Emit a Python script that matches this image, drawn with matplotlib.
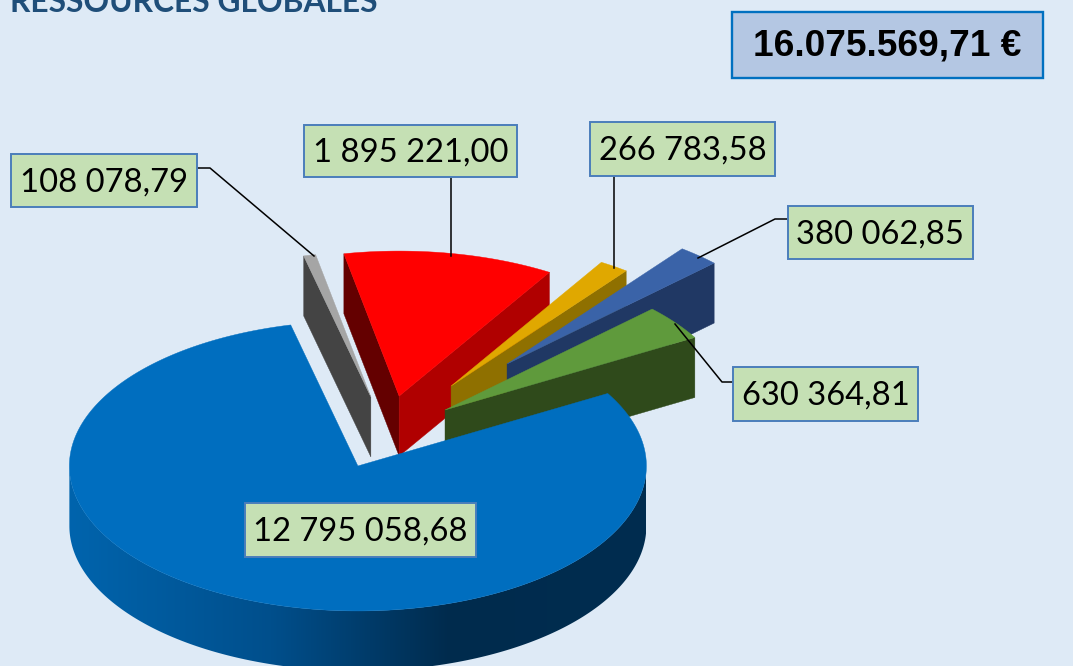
import numpy as np
import matplotlib.pyplot as plt
from matplotlib.patches import Polygon, Rectangle
from matplotlib.colors import LinearSegmentedColormap

# Data, in drawing order around the pie (clockwise)
slice_names = ["Blue", "Grey", "Red", "Gold", "Navy", "Green"]
slice_values = [12795058.68, 108078.79, 1895221.00, 266783.58, 380062.85, 630364.81]
total_label = "16.075.569,71 €"
title = "RESSOURCES GLOBALES"

# Styles
top_colors = ["#006ebf", "#a5a5a5", "#ff0000", "#e0a800", "#3a63a8", "#5f9a3c"]
left_colors = ["#00497f", "#444444", "#640000", "#8f7000", "#203864", "#2f4a1b"]
right_colors = ["#00497f", "#444444", "#b00000", "#8f7000", "#203864", "#2f4a1b"]
bg = "#deeaf6"
wall_cmap = LinearSegmentedColormap.from_list(
    "wall", [(0, "#0064ad"), (0.35, "#004f8c"), (0.66, "#002b4d"), (1, "#002d50")])

# Pie geometry in pixels
cx, cy = 385, 440
rx, ry = 288.5, 145
depth = 60
start_angle = 30.0
# explosion of each slice, in pie radius units (x right, y up)
explode_x = [-0.094, -0.049, 0.049, 0.229, 0.423, 0.208]
explode_y = [-0.179, 0.297, 0.303, 0.372, 0.524, 0.207]

# Label boxes: left, top, right, bottom in pixels, and the leader line
label_boxes = [(245, 503, 476, 557), (11, 154, 197, 207), (304, 125, 517, 177),
               (590, 122, 775, 176), (788, 206, 973, 259), (733, 367, 918, 421)]
leaders = [None,
           [(197, 168), (210, 168), (314, 256)],
           [(451, 177), (451, 256)],
           [(614, 176), (614, 268)],
           [(788, 219), (775, 219), (698, 258)],
           [(733, 382), (722, 382), (675, 324)]]


def fmt(v):
    return f"{v:,.2f}".replace(",", " ").replace(".", ",")


def rim(ox, oy, a):
    a = np.radians(a)
    return ox + rx * np.cos(a), oy - ry * np.sin(a)


fig = plt.figure(figsize=(10.73, 6.66), dpi=100, facecolor=bg)
ax = fig.add_axes([0, 0, 1, 1])
ax.axis("off")

sweeps = np.array(slice_values) / sum(slice_values) * 360
highs = start_angle - np.concatenate([[0], np.cumsum(sweeps)[:-1]])
lows = highs - sweeps


def draw_slice(i, z):
    ox = cx + explode_x[i] * rx
    oy = cy - explode_y[i] * ry
    hi, lo = highs[i], lows[i]

    # cut faces, only those turned to the viewer
    if np.cos(np.radians(hi)) < 0:
        x, y = rim(ox, oy, hi)
        ax.add_patch(Polygon([(ox, oy), (x, y), (x, y + depth), (ox, oy + depth)],
                             fc=left_colors[i], ec=left_colors[i], lw=0.3, zorder=z))
    if np.cos(np.radians(lo)) > 0:
        x, y = rim(ox, oy, lo)
        ax.add_patch(Polygon([(ox, oy), (x, y), (x, y + depth), (ox, oy + depth)],
                             fc=right_colors[i], ec=right_colors[i], lw=0.3, zorder=z))

    # outer wall with its gradient, front part of the rim only
    front = np.linspace(max(lo, -180), min(hi, 0), 300)
    if front[-1] > front[0]:
        xs, ys = rim(ox, oy, front)
        wall = Polygon(list(zip(xs, ys)) + list(zip(xs[::-1], ys[::-1] + depth)),
                       fc="none", ec="none", transform=ax.transData)
        ax.add_patch(wall)
        grad = np.linspace(0, 1, 256).reshape(1, -1)
        im = ax.imshow(grad, cmap=wall_cmap, extent=(xs.min(), xs.max(), ys.max() + depth, ys.min()),
                       aspect="auto", zorder=z)
        im.set_clip_path(wall)

    # top face
    xs, ys = rim(ox, oy, np.linspace(lo, hi, 400))
    pts = [(ox, oy)] + list(zip(xs, ys))
    ax.add_patch(Polygon(pts, fc=top_colors[i], ec=top_colors[i], lw=0.3, zorder=z + 0.5))


draw_order = [1, 2, 3, 4, 5, 0]
for z, i in enumerate(draw_order):
    draw_slice(i, z + 1)

for i, box in enumerate(label_boxes):
    l, t, r, b = box
    ax.add_patch(Rectangle((l, t), r - l, b - t, fc="#c5e0b4", ec="#4a7ebb", lw=1.4, zorder=20))
    ax.text((l + r) / 2, (t + b) / 2 + 2, fmt(slice_values[i]), fontsize=23.6, family="Lato",
            ha="center", va="center", color="black", zorder=21)
    if leaders[i]:
        xs, ys = zip(*leaders[i])
        ax.plot(xs, ys, color="black", lw=1.1, zorder=15)

# Total box and clipped heading
ax.add_patch(Rectangle((732, 12), 311, 66, fc="#b4c7e3", ec="#0070c0", lw=1.7, zorder=20))
ax.text(887.5, 46, total_label, fontsize=26.7, family="Liberation Sans", fontweight="bold",
        ha="center", va="center", color="black", zorder=21)
ax.text(10, 12.5, title, fontsize=22.9, family="Lato", fontweight="bold", color="#1f4e79",
        ha="left", va="baseline", zorder=21)

ax.set_xlim(0, 1073)
ax.set_ylim(666, 0)
fig.savefig("out.png", dpi=100, facecolor=bg)
